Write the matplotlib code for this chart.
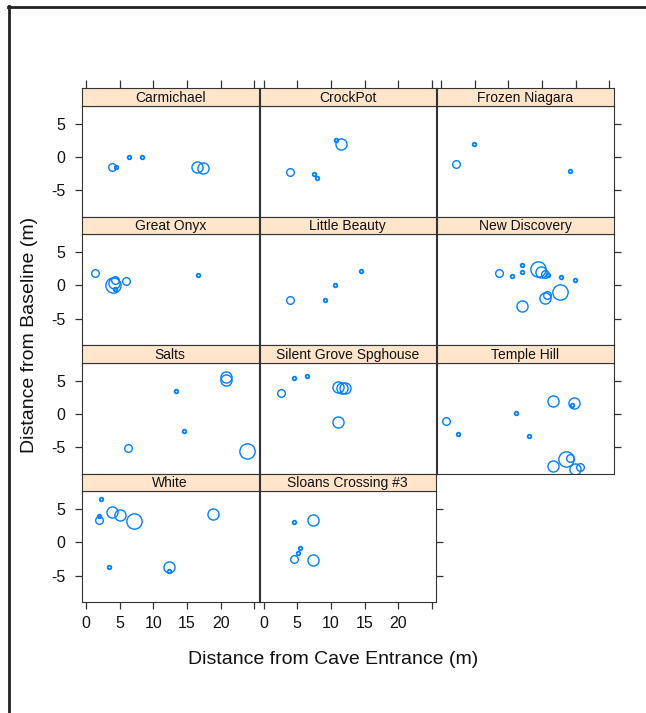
import matplotlib
matplotlib.use("Agg")
import matplotlib.pyplot as plt
from matplotlib.lines import Line2D

plt.rcParams['font.family'] = ['Liberation Sans', 'DejaVu Sans']

# ---------------- data ----------------
sites = ["Carmichael", "CrockPot", "Frozen Niagara",
         "Great Onyx", "Little Beauty", "New Discovery",
         "Salts", "Silent Grove Spghouse", "Temple Hill",
         "White", "Sloans Crossing #3"]

# x: distance from entrance, y: distance from baseline, m: magnitude class (1..4)
carmichael_x = [3.8, 4.4, 6.4, 8.3, 16.4, 17.4]
carmichael_y = [-1.5, -1.5, 0.05, 0.05, -1.5, -1.7]
carmichael_m = [2, 1, 1, 1, 3, 3]

crockpot_x = [10.8, 11.5, 3.9, 7.5, 8.0]
crockpot_y = [2.6, 1.9, -2.3, -2.5, -3.1]
crockpot_m = [1, 3, 2, 1, 1]

frozen_x = [2.2, 4.9, 19.1]
frozen_y = [-1.0, 2.0, -2.1]
frozen_m = [2, 1, 1]

onyx_x = [1.3, 4.3, 4.0, 4.2, 4.3, 6.0, 16.6]
onyx_y = [1.8, 0.86, 0.1, 0.35, -0.5, 0.6, 1.6]
onyx_m = [2, 2, 4, 3, 1, 2, 1]

beauty_x = [4.0, 9.1, 10.6, 14.4]
beauty_y = [-2.2, -2.2, 0.05, 2.2]
beauty_m = [2, 1, 1, 1]

newdisc_x = [8.6, 10.6, 12.0, 12.0, 14.4, 14.8, 15.5, 15.9, 17.8, 19.9,
             17.7, 15.5, 15.8, 12.0]
newdisc_y = [1.8, 1.4, 3.0, 2.0, 2.5, 2.0, 1.7, 1.6, 1.2, 0.86,
             -1.0, -1.9, -1.4, -3.0]
newdisc_m = [2, 1, 1, 1, 4, 3, 2, 1, 1, 1, 4, 3, 2, 3]

salts_x = [20.8, 20.8, 13.4, 14.6, 6.3, 23.9]
salts_y = [5.6, 5.1, 3.4, -2.6, -5.1, -5.5]
salts_m = [3, 3, 1, 1, 2, 4]

silent_x = [4.5, 6.4, 2.6, 11.0, 11.6, 12.1, 11.1]
silent_y = [5.45, 5.7, 3.2, 4.0, 3.9, 3.85, -1.26]
silent_m = [1, 1, 2, 3, 3, 3, 3]

temple_x = [0.74, 2.5, 11.2, 13.1, 16.6, 19.8, 19.5, 16.6, 18.5, 19.2, 19.9, 20.7]
temple_y = [-1.06, -3.0, 0.1, -3.3, 1.9, 1.6, 1.4, -7.8, -6.8, -6.6, -8.2, -7.9]
temple_m = [2, 1, 1, 1, 3, 3, 1, 3, 4, 2, 3, 2]

white_x = [2.2, 1.9, 1.9, 3.9, 5.1, 7.1, 18.9, 3.4, 12.3, 12.3]
white_y = [6.5, 4.0, 3.4, 4.6, 4.1, 3.2, 4.3, -3.6, -3.6, -4.3]
white_m = [1, 1, 2, 3, 3, 4, 3, 1, 3, 1]

sloans_x = [4.5, 7.4, 5.4, 5.1, 4.5, 7.4]
sloans_y = [3.0, 3.4, -0.86, -1.6, -2.4, -2.6]
sloans_m = [1, 3, 1, 1, 2, 3]

site_data = [(carmichael_x, carmichael_y, carmichael_m),
             (crockpot_x, crockpot_y, crockpot_m),
             (frozen_x, frozen_y, frozen_m),
             (onyx_x, onyx_y, onyx_m),
             (beauty_x, beauty_y, beauty_m),
             (newdisc_x, newdisc_y, newdisc_m),
             (salts_x, salts_y, salts_m),
             (silent_x, silent_y, silent_m),
             (temple_x, temple_y, temple_m),
             (white_x, white_y, white_m),
             (sloans_x, sloans_y, sloans_m)]

x_ticks = [0, 5, 10, 15, 20, 25]
x_ticklabels = ["0", "5", "10", "15", "20", ""]
y_ticks = [-5, 0, 5]
y_ticklabels = ["-5", "0", "5"]

# ---------------- layout ----------------
W, H = 646, 713
fig = plt.figure(figsize=(W / 100, H / 100), dpi=100)

def fx(px):
    return px / W

def fy(py):
    return 1 - py / H

col_left = [82, 259.5, 437]
col_w = 176.5
row_top = [88, 216.5, 345, 473.5]
strip_h = 17.5
plot_h = 111
xlim = (-0.6, 25.6)
ylim = (-8.9, 7.7)
blue = "#0080ff"
frame_col = "#333333"
size_map = {1: 2.6, 2: 5.5, 3: 8.0, 4: 11.0}

for i, name in enumerate(sites):
    r, c = divmod(i, 3)
    left = col_left[c]
    top = row_top[r]
    # panel
    ax = fig.add_axes([fx(left), fy(top + strip_h + plot_h), col_w / W, plot_h / H])
    xs, ys, ms = site_data[i]
    for xv, yv, mv in zip(xs, ys, ms):
        ax.plot([xv], [yv], 'o', mfc='none', mec=blue,
                ms=size_map[mv], mew=1.0 if mv > 1 else 1.3)
    ax.set_xlim(*xlim)
    ax.set_ylim(*ylim)
    for s in ax.spines.values():
        s.set_linewidth(0.8)
        s.set_color(frame_col)
    ax.tick_params(direction='out', length=5, width=0.9, labelsize=11.5,
                   color=frame_col, labelcolor='#111111')
    ax.tick_params(axis='x', pad=5)
    ax.tick_params(axis='y', pad=7)
    if r == 3:
        ax.set_xticks(x_ticks)
        ax.set_xticklabels(x_ticklabels)
    else:
        ax.set_xticks([])
    ax.set_yticks(y_ticks)
    if c == 0:
        ax.set_yticklabels(y_ticklabels)
        ax.tick_params(axis='y', left=True, right=False, labelleft=True)
    else:
        ax.tick_params(axis='y', left=False, labelleft=False)
    last_in_row = (c == 2) or (i == len(sites) - 1)
    if last_in_row:
        ax.tick_params(axis='y', right=True, labelright=False)
    # strip
    sax = fig.add_axes([fx(left), fy(top + strip_h), col_w / W, strip_h / H])
    sax.set_facecolor('#ffe5cc')
    sax.set_xlim(*xlim)
    sax.set_yticks([])
    for s in sax.spines.values():
        s.set_linewidth(0.8)
        s.set_color(frame_col)
    if r == 0:
        sax.set_xticks(x_ticks)
        sax.tick_params(axis='x', top=True, bottom=False, labeltop=False,
                        labelbottom=False, direction='out', length=6,
                        width=0.9, color=frame_col)
    else:
        sax.set_xticks([])
    sax.text(0.5, 0.45, name, transform=sax.transAxes, ha='center',
             va='center', fontsize=10, color='#111111')

fig.text(fx(30), fy(335), "Distance from Baseline (m)", rotation=90,
         ha='center', va='center', fontsize=14, color='#111111')
fig.text(fx(333), fy(660), "Distance from Cave Entrance (m)",
         ha='center', va='center', fontsize=14, color='#111111')

# outer frame
fig.add_artist(Line2D([fx(8), fx(646)], [fy(6.5), fy(6.5)], color='#222222', lw=2))
fig.add_artist(Line2D([fx(8.5), fx(8.5)], [fy(6), fy(713)], color='#222222', lw=2))

fig.savefig("out.png", dpi=100)
